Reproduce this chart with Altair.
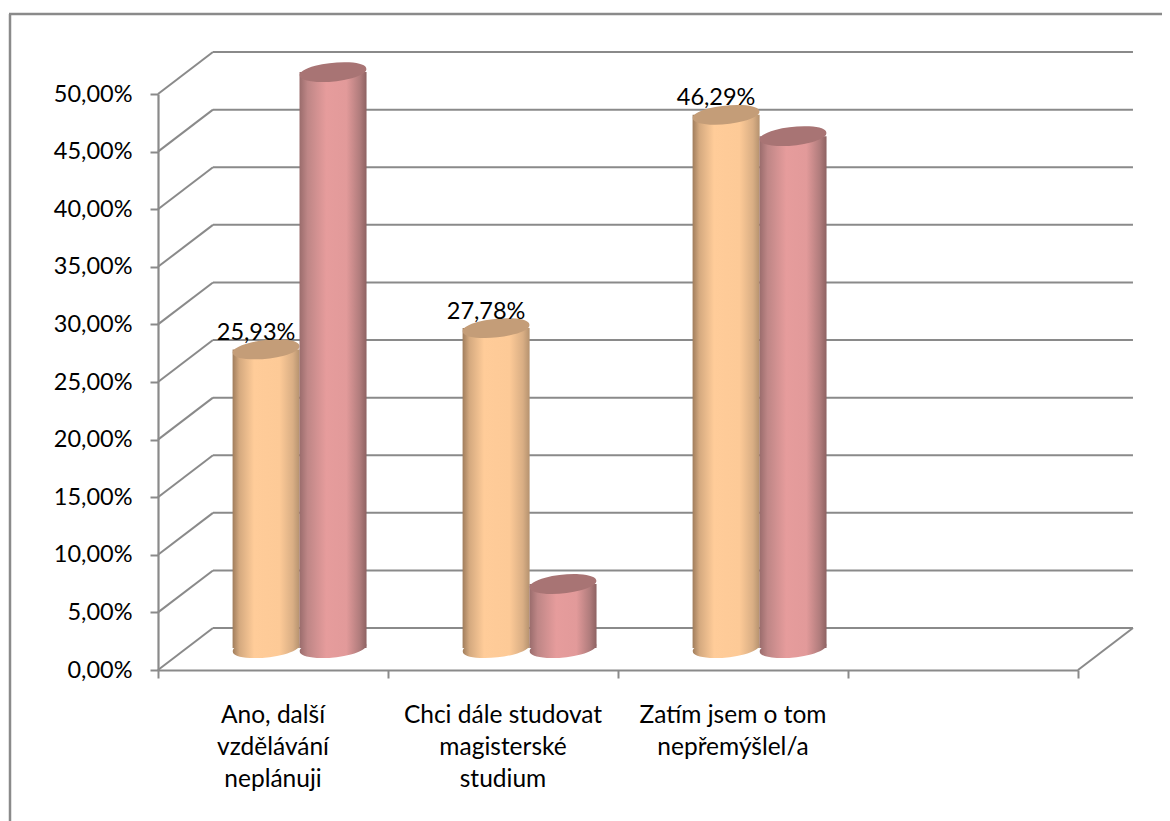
import altair as alt
import pandas as pd

categories = ["Ano, další\nvzdělávání\nneplánuji", "Chci dále studovat\nmagisterské\nstudium", "Zatím jsem o tom\nnepřemýšlel/a"]
series_a = [25.93, 27.78, 46.29]
series_b = [50.00, 5.56, 44.44]
ticks = [0, 5, 10, 15, 20, 25, 30, 35, 40, 45, 50]

# 3-D projection, in axis units
DX, DY = 0.239, 3.64
MID = 1.9
A_POS, B_POS, HALF = 0.47, 0.761, 0.1457
FONT = "Lato"
FS = 23.5
GRAY = "#8a8a8a"

X = alt.Scale(domain=[0, 4], nice=False, zero=False)
Y = alt.Scale(domain=[0, 50], nice=False, zero=False)


def grad(stops):
    return alt.LinearGradient(
        gradient="linear", x1=0, x2=1, y1=0, y2=0,
        stops=[alt.GradientStop(color=c, offset=o) for o, c in stops],
    )


grad_a = grad([(0, "#A07D5C"), (0.1, "#D4A97F"), (0.32, "#FFCC99"), (0.7, "#FDCA97"), (0.9, "#D9AE84"), (1, "#B5926F")])
grad_b = grad([(0, "#9A6C6C"), (0.12, "#BE8686"), (0.4, "#E69C9C"), (0.7, "#E29A9A"), (0.9, "#B07C7C"), (1, "#8E6262")])

ELLIPSE = "M-0.994,0.104 A1,0.27,-6,1,1,0.994,-0.104 A1,0.27,-6,1,1,-0.994,0.104 Z"
ESIZE = 4489


def cyl_frame(values, pos):
    return pd.DataFrame({
        "c": [i + pos for i in range(len(values))],
        "l": [i + pos - HALF for i in range(len(values))],
        "r": [i + pos + HALF for i in range(len(values))],
        "base": [MID] * len(values),
        "top": [v + MID for v in values],
        "value": values,
    })


df_a = cyl_frame(series_a, A_POS)
df_b = cyl_frame(series_b, B_POS)
df_a["label"] = [f"{v:.2f}%".replace(".", ",") for v in series_a]

grid_df = pd.DataFrame({
    "v": ticks,
    "vb": [t + DY for t in ticks],
    "x0": [0] * len(ticks),
    "xb": [DX] * len(ticks),
    "xe": [4 + DX] * len(ticks),
})

base_axes = alt.Chart(grid_df).mark_rule(strokeOpacity=0).encode(
    x=alt.X("x0:Q", scale=X, title=None,
            axis=alt.Axis(values=[0, 1, 2, 3, 4], labels=False, grid=False, tickSize=8, tickWidth=2,
                          tickColor=GRAY, domainColor=GRAY, domainWidth=2.2, title=None)),
    y=alt.Y("v:Q", scale=Y, title=None,
            axis=alt.Axis(values=ticks, grid=False, tickSize=8, tickWidth=2, tickColor=GRAY,
                          domainColor=GRAY, domainWidth=2.2, title=None, labelFont=FONT, labelFontSize=FS,
                          labelColor="#000000", labelPadding=18,
                          labelExpr="replace(format(datum.value,'.2f'),'.',',')+'%'")),
)

back = alt.Chart(grid_df).mark_rule(color=GRAY, strokeWidth=2).encode(
    x=alt.X("xb:Q", scale=X), x2="xe:Q", y=alt.Y("vb:Q", scale=Y))
side = alt.Chart(grid_df).mark_rule(color=GRAY, strokeWidth=2).encode(
    x=alt.X("x0:Q", scale=X), x2="xb:Q", y=alt.Y("v:Q", scale=Y), y2="vb:Q")
floor_right = alt.Chart(pd.DataFrame({"a": [4], "b": [4 + DX], "c": [0], "d": [DY]})).mark_rule(
    color=GRAY, strokeWidth=2).encode(x=alt.X("a:Q", scale=X), x2="b:Q", y=alt.Y("c:Q", scale=Y), y2="d:Q")


def cylinder(df, g, cap):
    data = alt.Chart(df)
    foot = data.mark_point(shape=ELLIPSE, filled=True, size=ESIZE, fill=g, opacity=1, strokeWidth=0).encode(
        x=alt.X("c:Q", scale=X), y=alt.Y("base:Q", scale=Y))
    body = data.mark_rect(fill=g).encode(
        x=alt.X("l:Q", scale=X), x2="r:Q", y=alt.Y("top:Q", scale=Y), y2="base:Q")
    head = data.mark_point(shape=ELLIPSE, filled=True, size=ESIZE, fill=cap, opacity=1, strokeWidth=0).encode(
        x=alt.X("c:Q", scale=X), y=alt.Y("top:Q", scale=Y))
    return [foot, body, head]


labels = alt.Chart(df_a).mark_text(font=FONT, fontSize=FS, color="#000000", dx=-10, dy=-16.5, baseline="middle").encode(
    x=alt.X("c:Q", scale=X), y=alt.Y("top:Q", scale=Y), text="label:N")

cat_df = pd.DataFrame({"x": [i + 0.5 for i in range(len(categories))], "t": categories})
cat_labels = alt.Chart(cat_df).mark_text(font=FONT, fontSize=24.5, color="#000000", baseline="top", align="center",
                                         lineBreak="\n", lineHeight=32).encode(
    x=alt.X("x:Q", scale=X), y=alt.value(610), text="t:N")

frame_left = alt.Chart(pd.DataFrame({"k": [0]})).mark_rule(color=GRAY, strokeWidth=2.5).encode(
    x=alt.value(-148), y=alt.value(-80), y2=alt.value(727))
frame_top = alt.Chart(pd.DataFrame({"k": [0]})).mark_rule(color=GRAY, strokeWidth=2.5).encode(
    x=alt.value(-149), x2=alt.value(1004), y=alt.value(-80))

layers = [base_axes, back, side, floor_right]
for i in range(3):
    layers += cylinder(df_a.iloc[[i]], grad_a, "#C49D78")
    layers += cylinder(df_b.iloc[[i]], grad_b, "#A87474")
layers += [labels, cat_labels, frame_left, frame_top]

chart = alt.layer(*layers).properties(
    width=920, height=576,
    autosize=alt.AutoSizeParams(type="none"),
    padding={"left": 150, "top": 86, "right": 84, "bottom": 151},
    background="#FFFFFF",
).configure_view(stroke=None)

chart.save("out.html", embed_options={"renderer": "svg", "actions": False})
